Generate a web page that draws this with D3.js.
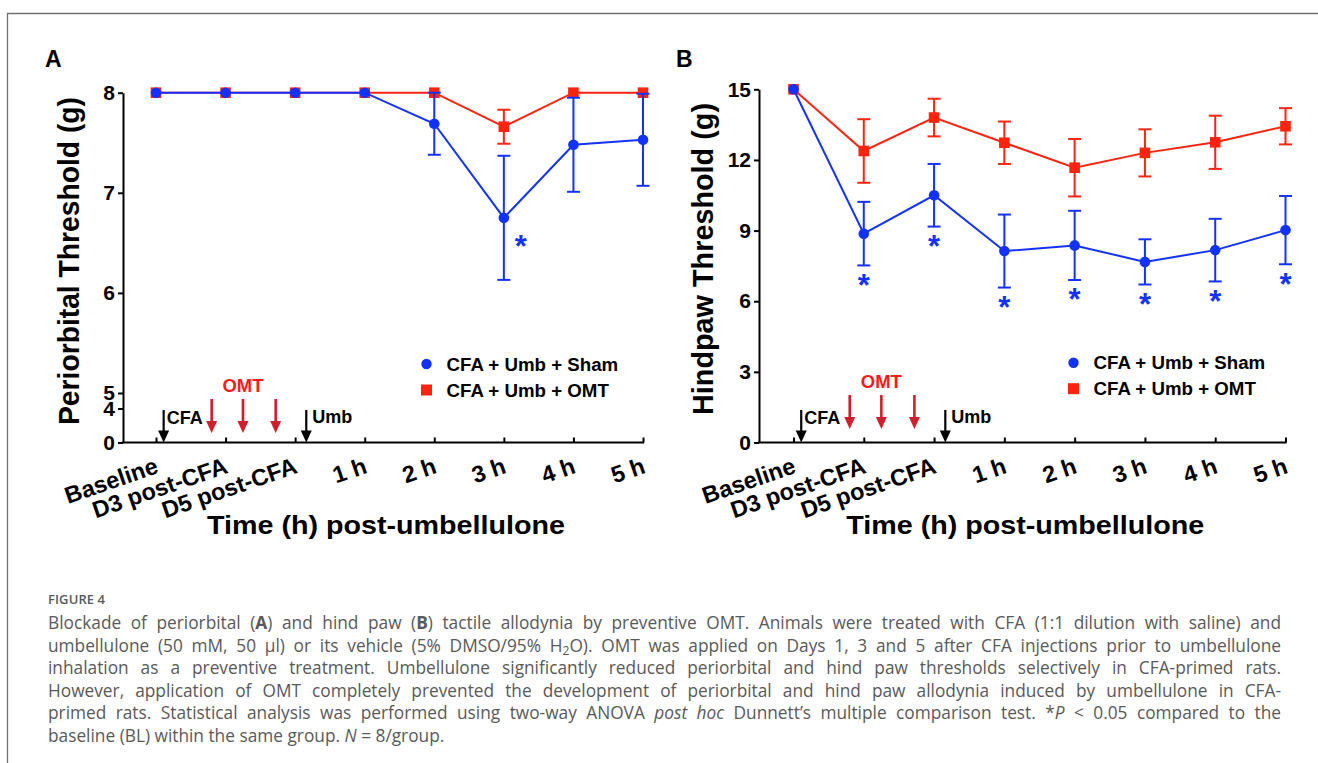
<!DOCTYPE html>
<html>
<head>
<meta charset="utf-8">
<script src="https://cdn.jsdelivr.net/npm/d3@7"></script>
<style>
  body { margin: 0; background: #fff; }
  #wrap { position: relative; width: 1318px; height: 763px; overflow: hidden; }
  #wrap svg { position: absolute; left: 0; top: 0; }
  .cap-line {
    position: absolute; left: 48px; height: 22.5px; white-space: nowrap;
    line-height: 22.5px; font-family: "Open Sans", sans-serif; font-size: 17.3px;
    color: #595959;
  }
  .cap-line sub { font-size: 70%; vertical-align: -0.25em; line-height: 0; }
  #figlabel {
    position: absolute; left: 48px; top: 590px; font-family: "Open Sans", sans-serif;
    font-size: 13px; font-weight: 600; color: #595959; letter-spacing: 0.1px;
  }
</style>
</head>
<body>
<div id="wrap"></div>
<script>
// ---- data ----
const categories = ['Baseline', 'D3 post-CFA', 'D5 post-CFA', '1 h', '2 h', '3 h', '4 h', '5 h'];

// A: periorbital threshold (g), mean and SEM
const periShamMean = [8, 8, 8, 8, 7.69, 6.75, 7.48, 7.53];
const periShamErr = [0, 0, 0, 0, 0.31, 0.62, 0.47, 0.46];
const periOmtMean = [8, 8, 8, 8, 8, 7.66, 8, 8];
const periOmtErr = [0, 0, 0, 0, 0, 0.17, 0, 0];
const periShamSig = [0, 0, 0, 0, 0, 1, 0, 0];

// B: hindpaw threshold (g), mean and SEM
const pawShamMean = [15, 8.87, 10.5, 8.13, 8.37, 7.67, 8.17, 9.02];
const pawShamErr = [0, 1.35, 1.33, 1.55, 1.47, 0.96, 1.33, 1.45];
const pawOmtMean = [15, 12.38, 13.8, 12.73, 11.67, 12.3, 12.75, 13.43];
const pawOmtErr = [0, 1.35, 0.8, 0.9, 1.22, 1.0, 1.13, 0.77];
const pawShamSig = [0, 1, 1, 1, 1, 1, 1, 1];

const periTicks = [0, 4, 5, 6, 7, 8];
const pawTicks = [0, 3, 6, 9, 12, 15];

const legendLabels = ['CFA + Umb + Sham', 'CFA + Umb + OMT'];

// treatment arrows, in category-index units
const cfaArrowAt = 0.11;
const omtArrowsAt = [0.8, 1.25, 1.72];
const umbArrowAt = 2.16;

const captionLines = [
  'Blockade of periorbital (<b>A</b>) and hind paw (<b>B</b>) tactile allodynia by preventive OMT. Animals were treated with CFA (1:1 dilution with saline) and',
  'umbellulone (50 mM, 50 μl) or its vehicle (5% DMSO/95% H<sub>2</sub>O). OMT was applied on Days 1, 3 and 5 after CFA injections prior to umbellulone',
  'inhalation as a preventive treatment. Umbellulone significantly reduced periorbital and hind paw thresholds selectively in CFA-primed rats.',
  'However, application of OMT completely prevented the development of periorbital and hind paw allodynia induced by umbellulone in CFA-',
  'primed rats. Statistical analysis was performed using two-way ANOVA <i>post hoc</i> Dunnett’s multiple comparison test. *<i>P</i> &lt; 0.05 compared to the',
  'baseline (BL) within the same group. <i>N</i> = 8/group.'
];

// ---- drawing ----
const W = 1318, H = 763;
const FONT = '"Liberation Sans", Arial, Helvetica, sans-serif';
const BLUE = '#1432ff', RED = '#ff2410', DARKRED = '#d01f2c';

const svg = d3.select('#wrap').append('svg').attr('width', W).attr('height', H);

// figure frame
svg.append('path')
  .attr('d', `M7.5,${H}V13.5H${W}`)
  .attr('fill', 'none').attr('stroke', '#707070').attr('stroke-width', 1.3);

function drawPanel(cfg) {
  const g = svg.append('g').attr('font-family', FONT).attr('font-weight', 'bold');

  const x = d3.scalePoint().domain(categories).range(cfg.xRange);
  const xi = i => cfg.xRange[0] + x.step() * i;
  const y = d3.scaleLinear().domain(cfg.yDomain).range(cfg.yRange);
  const y0 = y(0);

  // panel letter
  g.append('text').attr('x', cfg.letterX).attr('y', 67)
    .attr('font-size', 23).text(cfg.letter);

  // y axis
  const yAx = g.append('g').attr('transform', `translate(${cfg.axisX},0)`)
    .call(d3.axisLeft(y).tickValues(cfg.yTicks).tickSize(5).tickSizeOuter(0).tickPadding(3));
  yAx.attr('font-family', FONT).attr('font-size', 21).attr('font-weight', 'bold');
  yAx.selectAll('path, line').attr('stroke', '#000').attr('stroke-width', 2);

  // x axis
  const xAx = g.append('g').attr('transform', `translate(0,${y0})`)
    .call(d3.axisBottom(x).tickSize(-5).tickSizeOuter(0));
  xAx.attr('font-family', FONT).attr('font-size', 23.5).attr('font-weight', 'bold');
  xAx.select('.domain').remove();
  xAx.append('line').attr('x1', cfg.axisX - 1).attr('x2', cfg.xRange[1] + 1)
    .attr('stroke', '#000').attr('stroke-width', 2);
  xAx.selectAll('.tick line').attr('stroke', '#000').attr('stroke-width', 2);
  xAx.selectAll('.tick text')
    .attr('x', 0).attr('y', 0).attr('dy', null)
    .attr('text-anchor', 'end')
    .attr('transform', 'translate(3,30) rotate(-19)');

  // axis titles
  const xMid = (cfg.axisX + cfg.xRange[1]) / 2 + 3;
  g.append('text').attr('x', xMid).attr('y', 534)
    .attr('text-anchor', 'middle').attr('font-size', 26)
    .attr('textLength', 358).attr('lengthAdjust', 'spacingAndGlyphs')
    .text('Time (h) post-umbellulone');
  g.append('text')
    .attr('transform', `translate(${cfg.yTitleX},${cfg.yTitleY}) rotate(-90)`)
    .attr('text-anchor', 'middle').attr('font-size', 29)
    .attr('textLength', cfg.yTitleLen).attr('lengthAdjust', 'spacingAndGlyphs')
    .text(cfg.yTitle);

  // treatment arrows
  function arrow(px, yTop, yTip, color, sw) {
    g.append('line').attr('x1', px).attr('x2', px).attr('y1', yTop).attr('y2', yTip - 9)
      .attr('stroke', color).attr('stroke-width', sw);
    g.append('path')
      .attr('d', `M${px - 5.5},${yTip - 12}L${px + 5.5},${yTip - 12}L${px},${yTip}Z`)
      .attr('fill', color);
  }
  arrow(xi(cfaArrowAt), y0 - 32.5, y0, '#000', 2.2);
  arrow(xi(umbArrowAt), y0 - 32.5, y0, '#000', 2.2);
  omtArrowsAt.forEach(a => arrow(xi(a), y0 - cfg.omtTop, y0 - cfg.omtTop + 34, DARKRED, 2.6));
  g.append('text').attr('x', xi(cfaArrowAt) + 3).attr('y', y0 - 19)
    .attr('font-size', 18).text('CFA');
  g.append('text').attr('x', xi(umbArrowAt) + 6).attr('y', y0 - 19.5)
    .attr('font-size', 18).text('Umb');
  g.append('text').attr('x', xi(omtArrowsAt[1])).attr('y', y0 - cfg.omtTop - 7)
    .attr('text-anchor', 'middle').attr('font-size', 18.5).attr('fill', '#ff1a1a').text('OMT');

  // series
  function series(mean, err, color, shape) {
    const s = g.append('g');
    const idx = d3.range(mean.length).filter(i => err[i] > 0);
    const eb = s.selectAll('g.eb').data(idx).join('g').attr('class', 'eb')
      .attr('stroke', color).attr('stroke-width', 2);
    eb.append('line').attr('x1', i => x(categories[i])).attr('x2', i => x(categories[i]))
      .attr('y1', i => y(mean[i] + err[i])).attr('y2', i => y(mean[i] - err[i]));
    [1, -1].forEach(sign => {
      eb.append('line').attr('x1', i => x(categories[i]) - 6.5).attr('x2', i => x(categories[i]) + 6.5)
        .attr('y1', i => y(mean[i] + sign * err[i])).attr('y2', i => y(mean[i] + sign * err[i]));
    });
    const line = d3.line().x((d, i) => x(categories[i])).y(d => y(d));
    s.append('path').datum(mean).attr('d', line)
      .attr('fill', 'none').attr('stroke', color).attr('stroke-width', 2);
    if (shape === 'circle') {
      s.selectAll('circle').data(mean).join('circle')
        .attr('cx', (d, i) => x(categories[i])).attr('cy', d => y(d)).attr('r', 5.3)
        .attr('fill', color);
    } else {
      s.selectAll('rect').data(mean).join('rect')
        .attr('x', (d, i) => x(categories[i]) - 5.3).attr('y', d => y(d) - 5.3)
        .attr('width', 10.6).attr('height', 10.6).attr('fill', color);
    }
  }
  series(cfg.omtMean, cfg.omtErr, RED, 'square');
  series(cfg.shamMean, cfg.shamErr, BLUE, 'circle');

  // significance stars (asterisk visual centre sits ~0.53em above baseline)
  const starSize = 31;
  const sig = d3.range(categories.length).filter(i => cfg.sig[i]);
  g.selectAll('text.star').data(sig).join('text').attr('class', 'star')
    .attr('text-anchor', 'middle').attr('font-size', starSize).attr('fill', BLUE)
    .attr('x', i => x(categories[i]) + cfg.starDx)
    .attr('y', i => (cfg.starBelowErr
      ? y(cfg.shamMean[i] - cfg.shamErr[i]) + 14
      : y(cfg.shamMean[i]) + cfg.starDy) + starSize * 0.53)
    .text('*');

  // legend
  const lg = g.append('g').attr('transform', `translate(${cfg.legendX},${cfg.legendY})`);
  lg.append('circle').attr('cx', 0).attr('cy', 0).attr('r', 5.2).attr('fill', BLUE);
  lg.append('rect').attr('x', -5.5).attr('y', 20.5).attr('width', 11).attr('height', 11).attr('fill', RED);
  lg.selectAll('text').data(legendLabels).join('text')
    .attr('x', 20).attr('y', (d, i) => 6.5 + i * 26)
    .attr('font-size', 18.7).text(d => d);
}

drawPanel({
  letter: 'A', letterX: 45,
  axisX: 123, xRange: [156, 643],
  yDomain: [0, 4, 5, 8], yRange: [442.5, 408.5, 393, 92.7], yTicks: periTicks,
  yTitle: 'Periorbital Threshold (g)', yTitleX: 79, yTitleY: 261, yTitleLen: 328,
  omtTop: 43.5,
  shamMean: periShamMean, shamErr: periShamErr, omtMean: periOmtMean, omtErr: periOmtErr,
  sig: periShamSig, starBelowErr: false, starDx: 17, starDy: 23,
  legendX: 426.5, legendY: 364
});

drawPanel({
  letter: 'B', letterX: 676,
  axisX: 759, xRange: [793.5, 1285.5],
  yDomain: [0, 15], yRange: [442.5, 89.3], yTicks: pawTicks,
  yTitle: 'Hindpaw Threshold (g)', yTitleX: 713, yTitleY: 259, yTitleLen: 312,
  omtTop: 47.5,
  shamMean: pawShamMean, shamErr: pawShamErr, omtMean: pawOmtMean, omtErr: pawOmtErr,
  sig: pawShamSig, starBelowErr: true, starDx: 0, starDy: 0,
  legendX: 1073.5, legendY: 362.7
});

// caption, each line justified to the full width by widening word gaps
const wrap = d3.select('#wrap');
const capWidth = 1233;
wrap.append('div').attr('id', 'figlabel').text('FIGURE 4');
captionLines.forEach((t, i) => {
  const div = wrap.append('div').attr('class', 'cap-line')
    .style('top', (612 + i * 22.5) + 'px')
    .html(t);
  if (i < captionLines.length - 1) {
    const w = div.node().getBoundingClientRect().width;
    const gaps = (div.node().textContent.match(/ /g) || []).length;
    div.style('word-spacing', ((capWidth - w) / gaps) + 'px');
  }
});
</script>
</body>
</html>
